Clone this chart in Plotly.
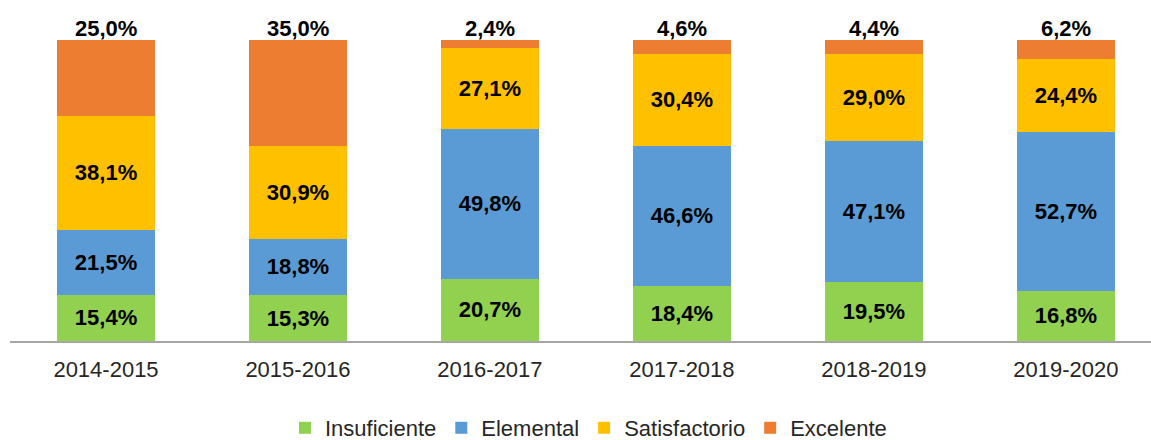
import plotly.graph_objects as go

categories = ["2014-2015", "2015-2016", "2016-2017", "2017-2018", "2018-2019", "2019-2020"]
insuficiente = [15.4, 15.3, 20.7, 18.4, 19.5, 16.8]
elemental = [21.5, 18.8, 49.8, 46.6, 47.1, 52.7]
satisfactorio = [38.1, 30.9, 27.1, 30.4, 29.0, 24.4]
excelente = [25.0, 35.0, 2.4, 4.6, 4.4, 6.2]

series = [
    ("Insuficiente", insuficiente, "#92D050"),
    ("Elemental", elemental, "#5B9BD5"),
    ("Satisfactorio", satisfactorio, "#FFC000"),
    ("Excelente", excelente, "#ED7D31"),
]

FONT = "Liberation Sans, Arial, sans-serif"

fig = go.Figure()
for i, (name, vals, color) in enumerate(series):
    last = i == len(series) - 1
    fig.add_trace(go.Bar(
        name=name, x=categories, y=vals,
        marker=dict(color=color, line=dict(width=0)),
        width=0.51,
        texttemplate=None if last else "<b>%{y:.1f}%</b>",
        textposition="none" if last else "inside",
        insidetextanchor="middle",
        constraintext="none",
        textangle=0,
        textfont=dict(family=FONT, size=22, color="black"),
        cliponaxis=False,
        hoverinfo="skip",
    ))

# top labels for the last (Excelente) series, placed at the top of each stack
for j, cat in enumerate(categories):
    total = sum(s[1][j] for s in series)
    label = f"{excelente[j]:.1f}".replace(".", ",") + "%"
    fig.add_annotation(
        x=cat, y=total, xref="x", yref="y",
        text=f"<b>{label}</b>", showarrow=False,
        yanchor="bottom", yshift=-3,
        font=dict(family=FONT, size=22, color="black"),
    )

fig.update_layout(
    barmode="stack",
    width=1151, height=440,
    margin=dict(l=10, r=0, t=40, b=99, autoexpand=False),
    paper_bgcolor="white", plot_bgcolor="white",
    separators=", ",
    font=dict(family=FONT, size=22, color="#262626"),
    showlegend=True,
    legend=dict(orientation="h", x=0.507, xanchor="center", y=-0.289, yanchor="middle",
                font=dict(family=FONT, size=22, color="#262626"),
                traceorder="normal", itemwidth=30, tracegroupgap=0),
)
fig.update_xaxes(
    range=[-0.5, 5.443],
    showline=True, linecolor="#a6a6a6", linewidth=1.5,
    showgrid=False, zeroline=False,
    ticks="", ticklabelstandoff=8,
    tickfont=dict(family=FONT, size=22, color="#262626"),
)
fig.update_yaxes(range=[0, 100.15], visible=False, showgrid=False, zeroline=False)

fig.write_html(
    "out.html",
    config={"displayModeBar": False},
    post_script="document.body.style.margin='0';document.body.style.overflow='hidden';",
)
